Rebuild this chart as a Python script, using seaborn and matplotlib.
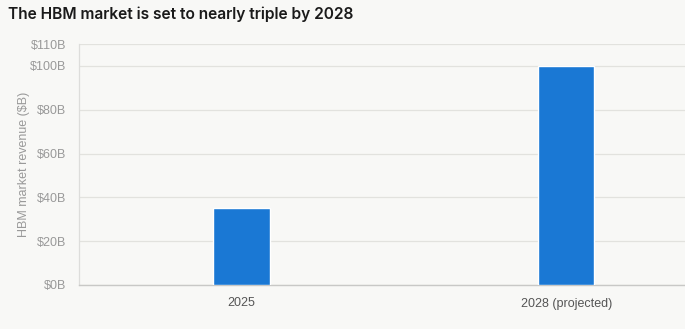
import matplotlib
matplotlib.use("Agg")
import matplotlib.pyplot as plt
import seaborn as sns
import pandas as pd

categories = ["2025", "2028 (projected)"]
revenue = [35, 100]
yticks = [0, 20, 40, 60, 80, 100, 110]
ytick_labels = ["$0B", "$20B", "$40B", "$60B", "$80B", "$100B", "$110B"]

bg = "#f8f8f6"
sns.set_theme(style="white")
plt.rcParams["font.family"] = ["Liberation Sans", "DejaVu Sans"]

fig = plt.figure(figsize=(6.85, 3.29), dpi=100, facecolor=bg)
ax = fig.add_axes([79/685, 44/329, 1 - 79/685, 241/329])
ax.set_facecolor(bg)

df = pd.DataFrame({"year": categories, "rev": revenue})
sns.barplot(data=df, x="year", y="rev", color="#1a78d4", saturation=1,
            width=0.174, ax=ax, zorder=3)

ax.set_xlim(-0.5, 1.366)
ax.set_ylim(0, 110)
ax.set_yticks(yticks)
ax.set_yticklabels(ytick_labels, color="#999999", fontsize=9)
ax.set_xticks(range(len(categories)))
ax.set_xticklabels(categories, color="#555555", fontsize=9)
ax.tick_params(axis="y", length=6, color="#d6d6d2", width=0.8, pad=3)
ax.tick_params(axis="x", length=0, pad=9)
ax.grid(axis="y", color="#e2e2de", lw=0.9, zorder=0)
ax.set_axisbelow(True)
for s in ["top", "right"]:
    ax.spines[s].set_visible(False)
ax.spines["left"].set_color("#dddddb")
ax.spines["left"].set_linewidth(0.9)
ax.spines["bottom"].set_color("#c8c8c6")
ax.spines["bottom"].set_linewidth(1.0)
ax.set_xlabel("")
ax.set_ylabel("HBM market revenue ($B)", color="#999999", fontsize=9, labelpad=0)

fig.text(8/685, 1 - 14/329, "The HBM market is set to nearly triple by 2028",
         fontsize=11.2, fontweight="semibold", color="#1a1a1a", va="center",
         ha="left", family=["Inter", "DejaVu Sans"])

fig.savefig("out.png", dpi=100, facecolor=bg)
